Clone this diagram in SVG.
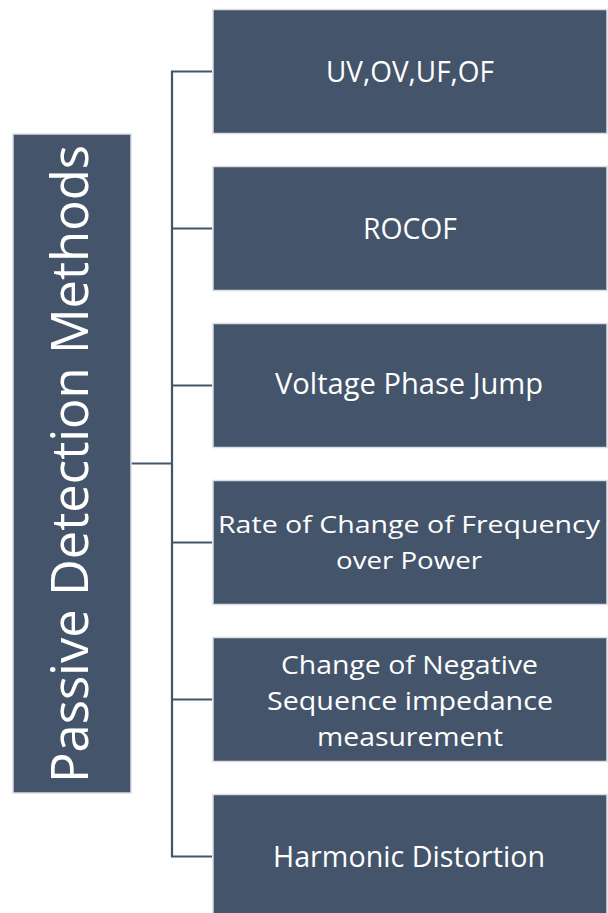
<svg xmlns="http://www.w3.org/2000/svg" width="608" height="913" viewBox="0 0 608 913">
  <style>
    .box { fill: #44546A; stroke: #DADDE2; stroke-width: 1.5; }
    .lbl { fill: #FFFFFF; font-family: "Open Sans", "Noto Sans", "Liberation Sans", sans-serif; text-anchor: middle; }
    .wire { fill: none; stroke: #44546A; stroke-width: 2.2; }
  </style>
  <rect width="608" height="913" fill="#FFFFFF"/>

  <!-- connectors: trunk, branch from the title box, and stubs to each method -->
  <g id="connectors" class="wire">
    <path d="M131,463.5 H172"/>
    <path d="M212,71.5 H172 V856.5 H212"/>
    <path d="M172,228.5 H212"/>
    <path d="M172,385.5 H212"/>
    <path d="M172,542.5 H212"/>
    <path d="M172,699.5 H212"/>
  </g>

  <g id="title">
    <rect class="box" x="13" y="134" width="118" height="659"/>
    <text class="lbl" transform="translate(88,464) rotate(-90)" font-size="52" textLength="638" lengthAdjust="spacingAndGlyphs">Passive Detection Methods</text>
  </g>

  <g id="uv-ov-uf-of">
    <rect class="box" x="213" y="9.5" width="394" height="124"/>
    <text class="lbl" x="410" y="81.5" font-size="30" textLength="168" lengthAdjust="spacingAndGlyphs">UV,OV,UF,OF</text>
  </g>

  <g id="rocof">
    <rect class="box" x="213" y="166.5" width="394" height="124"/>
    <text class="lbl" x="410" y="238.5" font-size="30" textLength="94" lengthAdjust="spacingAndGlyphs">ROCOF</text>
  </g>

  <g id="voltage-phase-jump">
    <rect class="box" x="213" y="323.5" width="394" height="124"/>
    <text class="lbl" x="409" y="394" font-size="30" textLength="268" lengthAdjust="spacingAndGlyphs">Voltage Phase Jump</text>
  </g>

  <g id="rocof-over-power">
    <rect class="box" x="213" y="480.5" width="394" height="124"/>
    <text class="lbl" x="409" y="532.5" font-size="24" textLength="382" lengthAdjust="spacingAndGlyphs">Rate of Change of Frequency</text>
    <text class="lbl" x="409" y="568.5" font-size="24" textLength="146" lengthAdjust="spacingAndGlyphs">over Power</text>
  </g>

  <g id="negative-sequence-impedance">
    <rect class="box" x="213" y="637.5" width="394" height="124"/>
    <text class="lbl" x="409.5" y="673.5" font-size="25.6" textLength="257" lengthAdjust="spacingAndGlyphs">Change of Negative</text>
    <text class="lbl" x="410" y="710" font-size="25.6" textLength="286" lengthAdjust="spacingAndGlyphs">Sequence impedance</text>
    <text class="lbl" x="410" y="746" font-size="25.6" textLength="186" lengthAdjust="spacingAndGlyphs">measurement</text>
  </g>

  <g id="harmonic-distortion">
    <rect class="box" x="213" y="794.5" width="394" height="124"/>
    <text class="lbl" x="409" y="866.5" font-size="30" textLength="272" lengthAdjust="spacingAndGlyphs">Harmonic Distortion</text>
  </g>
</svg>
